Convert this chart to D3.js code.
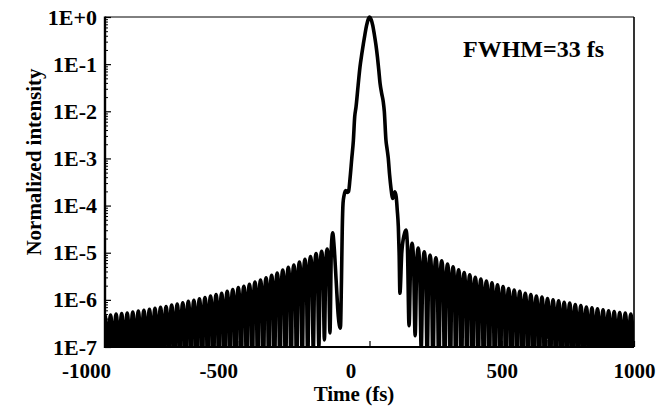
<!DOCTYPE html>
<html>
<head>
<meta charset="utf-8">
<script src="https://cdn.jsdelivr.net/npm/d3@7"></script>
<style>
  body { margin: 0; background: #fff; }
  text { font-family: "Liberation Serif", "Times New Roman", serif; font-weight: bold; fill: #000; }
</style>
</head>
<body>
<svg id="chart" width="671" height="406"></svg>
<script>
// values are [time in fs, log10 of normalized intensity]

// left wing: fringe peak, shoulder, dip, shoulder ...
const leftWing = [
  [-1010.5,-8.2],[-1005,-6.61],
  [-1000,-6.33],[-995,-6.61],[-989.5,-8.2],[-984,-6.60],
  [-979,-6.32],[-974,-6.60],[-968.5,-8.2],[-963,-6.58],
  [-958,-6.30],[-953,-6.58],[-947.5,-8.2],[-942,-6.57],
  [-937,-6.29],[-932,-6.57],[-926.5,-8.2],[-921,-6.56],
  [-916,-6.28],[-911,-6.56],[-905.5,-8.2],[-900,-6.54],
  [-895,-6.26],[-890,-6.54],[-884.5,-8.2],[-879,-6.52],
  [-874,-6.24],[-869,-6.52],[-863.5,-8.2],[-858,-6.50],
  [-853,-6.22],[-848,-6.50],[-842.5,-8.1],[-837,-6.48],
  [-832,-6.20],[-827,-6.48],[-821.5,-8.1],[-816,-6.46],
  [-811,-6.18],[-806,-6.46],[-800.5,-8.1],[-795,-6.44],
  [-790,-6.16],[-785,-6.44],[-779.5,-8.1],[-774,-6.42],
  [-769,-6.14],[-764,-6.42],[-758.5,-8.1],[-753,-6.39],
  [-748,-6.11],[-743,-6.39],[-737.5,-8.1],[-732,-6.37],
  [-727,-6.09],[-722,-6.37],[-716.5,-8.0],[-711,-6.34],
  [-706,-6.06],[-701,-6.34],[-695.5,-8.0],[-690,-6.31],
  [-685,-6.03],[-680,-6.31],[-674.5,-8.0],[-669,-6.29],
  [-664,-6.01],[-659,-6.29],[-653.5,-8.0],[-648,-6.26],
  [-643,-5.98],[-638,-6.26],[-632.5,-8.0],[-627,-6.23],
  [-622,-5.95],[-617,-6.23],[-611.5,-8.0],[-606,-6.20],
  [-601,-5.92],[-596,-6.20],[-590.5,-8.0],[-585,-6.17],
  [-580,-5.89],[-575,-6.17],[-569.5,-8.0],[-564,-6.14],
  [-559,-5.86],[-554,-6.14],[-548.5,-8.0],[-543,-6.10],
  [-538,-5.82],[-533,-6.10],[-527.5,-8.0],[-522,-6.06],
  [-517,-5.78],[-512,-6.06],[-506.5,-8.0],[-501,-6.02],
  [-496,-5.74],[-491,-6.02],[-485.5,-7.9],[-480,-5.99],
  [-475,-5.71],[-470,-5.99],[-464.5,-7.9],[-459,-5.95],
  [-454,-5.67],[-449,-5.95],[-443.5,-7.9],[-438,-5.90],
  [-433,-5.62],[-428,-5.90],[-422.5,-7.9],[-417,-5.86],
  [-412,-5.58],[-407,-5.86],[-401.5,-7.9],[-396,-5.81],
  [-391,-5.53],[-386,-5.81],[-380.5,-7.9],[-375,-5.76],
  [-370,-5.48],[-365,-5.76],[-359.5,-7.9],[-354,-5.71],
  [-349,-5.43],[-344,-5.71],[-338.5,-7.8],[-333,-5.65],
  [-328,-5.37],[-323,-5.65],[-317.5,-7.8],[-312,-5.59],
  [-307,-5.31],[-302,-5.59],[-296.5,-7.8],[-291,-5.54],
  [-286,-5.26],[-281,-5.54],[-275.5,-7.7],[-270,-5.48],
  [-265,-5.20],[-260,-5.48],[-254.5,-7.5],[-249,-5.42],
  [-244,-5.14],[-239,-5.42],[-233.5,-7.3],[-228,-5.36],
  [-223,-5.08],[-218,-5.36],[-212.5,-7.1],[-207,-5.30],
  [-202,-5.02],[-197,-5.30],[-191.5,-7.0],[-186,-5.25],
  [-181,-4.97],[-176,-5.25],[-170.5,-6.85],[-165,-5.20],
  [-160,-4.92],[-155,-5.20],[-149.5,-6.7],[-144,-4.86],
  [-139,-4.58],[-134,-4.85],[-126,-5.6],[-118,-6.35]
];

// main pulse
const pulse = [
  [-110,-6.6],[-106,-5.6],[-103,-4.5],[-100,-3.95],[-96,-3.78],[-90,-3.68],
  [-84,-3.72],[-79,-3.7],[-74,-3.45],[-67,-3.0],[-61,-2.62],[-56,-2.12],
  [-51,-1.91],[-43,-1.45],[-36,-1.06],[-29,-0.78],[-23,-0.56],[-17,-0.36],
  [-11,-0.18],[-5,-0.05],[0,0],[6,-0.05],[12,-0.17],[18,-0.36],[24,-0.58],
  [30,-0.85],[35,-1.12],[40,-1.41],[46,-1.62],[52,-1.8],[56,-2.0],[62,-2.6],
  [67,-2.82],[71,-3.0],[76,-3.35],[81,-3.62],[88,-3.85],[96,-3.71],
  [101,-3.82],[105,-4.1],[109,-4.45],[112,-5.0],[115,-5.86]
];

// right wing
const rightWing = [
  [122,-5.0],[131,-4.62],
  [138,-4.52],[143,-4.80],[149.5,-6.55],[156,-5.08],
  [161,-4.80],[166,-5.08],[172.5,-6.76],[179,-5.18],
  [184,-4.90],[189,-5.18],[195.5,-7.05],[202,-5.26],
  [207,-4.98],[212,-5.26],[218,-7.3],[224,-5.33],
  [229,-5.05],[234,-5.33],[240,-7.5],[246,-5.39],
  [251,-5.11],[256,-5.39],[262,-7.6],[268,-5.45],
  [273,-5.17],[278,-5.45],[284,-7.7],[290,-5.52],
  [295,-5.24],[300,-5.52],[305.5,-7.8],[311,-5.58],
  [316,-5.30],[321,-5.58],[326.5,-7.8],[332,-5.64],
  [337,-5.36],[342,-5.64],[347.5,-7.9],[353,-5.70],
  [358,-5.42],[363,-5.70],[368.5,-7.9],[374,-5.75],
  [379,-5.47],[384,-5.75],[389.5,-7.9],[395,-5.80],
  [400,-5.52],[405,-5.80],[410.5,-7.9],[416,-5.84],
  [421,-5.56],[426,-5.84],[431.5,-7.9],[437,-5.88],
  [442,-5.60],[447,-5.88],[452.5,-7.9],[458,-5.92],
  [463,-5.64],[468,-5.92],[473.5,-8.0],[479,-5.96],
  [484,-5.68],[489,-5.96],[494.5,-8.0],[500,-6.00],
  [505,-5.72],[510,-6.00],[515.5,-8.0],[521,-6.04],
  [526,-5.76],[531,-6.04],[536.5,-8.0],[542,-6.07],
  [547,-5.79],[552,-6.07],[557.5,-8.0],[563,-6.10],
  [568,-5.82],[573,-6.10],[578.5,-8.0],[584,-6.14],
  [589,-5.86],[594,-6.14],[599.5,-8.0],[605,-6.17],
  [610,-5.89],[615,-6.17],[620.5,-8.0],[626,-6.20],
  [631,-5.92],[636,-6.20],[641.5,-8.0],[647,-6.22],
  [652,-5.94],[657,-6.22],[662.5,-8.0],[668,-6.25],
  [673,-5.97],[678,-6.25],[683.5,-8.0],[689,-6.28],
  [694,-6.00],[699,-6.28],[704.5,-8.1],[710,-6.30],
  [715,-6.02],[720,-6.30],[725.5,-8.1],[731,-6.33],
  [736,-6.05],[741,-6.33],[746.5,-8.1],[752,-6.35],
  [757,-6.07],[762,-6.35],[767.5,-8.1],[773,-6.38],
  [778,-6.10],[783,-6.38],[788.5,-8.1],[794,-6.40],
  [799,-6.12],[804,-6.40],[809.5,-8.1],[815,-6.43],
  [820,-6.15],[825,-6.43],[830.5,-8.1],[836,-6.45],
  [841,-6.17],[846,-6.45],[851.5,-8.1],[857,-6.47],
  [862,-6.19],[867,-6.47],[872.5,-8.2],[878,-6.49],
  [883,-6.21],[888,-6.49],[893.5,-8.2],[899,-6.51],
  [904,-6.23],[909,-6.51],[914.5,-8.2],[920,-6.53],
  [925,-6.25],[930,-6.53],[935.5,-8.2],[941,-6.55],
  [946,-6.27],[951,-6.55],[956.5,-8.2],[962,-6.56],
  [967,-6.28],[972,-6.56],[977.5,-8.2],[983,-6.58],
  [988,-6.30],[993,-6.58],[998.5,-8.2],[1004,-6.59],
  [1009,-6.31]
];

const xTicks = [-1000, -500, 0, 500, 1000];
const yTicks = [1e0, 1e-1, 1e-2, 1e-3, 1e-4, 1e-5, 1e-6, 1e-7];
const yLabels = ["1E+0", "1E-1", "1E-2", "1E-3", "1E-4", "1E-5", "1E-6", "1E-7"];
const note = "FWHM=33 fs";

var margin = { top: 17, right: 37, bottom: 59, left: 105 },
    width = 671 - margin.left - margin.right,
    height = 406 - margin.top - margin.bottom;

var svg = d3.select("#chart");

var x = d3.scaleLinear().domain([-1000, 1000]).range([margin.left, margin.left + width]);
var y = d3.scaleLog().domain([1e-7, 1]).range([margin.top + height, margin.top]);

// clip for the curve
svg.append("clipPath").attr("id", "plotclip")
  .append("rect")
  .attr("x", margin.left)
  .attr("y", 0)
  .attr("width", width)
  .attr("height", margin.top + height);

var allPoints = leftWing.concat(pulse, rightWing);

var line = d3.line()
  .x(function(d) { return x(d[0]); })
  .y(function(d) { return y(Math.pow(10, d[1])); })
  .curve(d3.curveMonotoneX);

svg.append("path")
  .datum(allPoints)
  .attr("clip-path", "url(#plotclip)")
  .attr("d", line)
  .attr("fill", "none")
  .attr("stroke", "#000")
  .attr("stroke-width", 3.6)
  .attr("stroke-linejoin", "round");

// y axis: major and minor ticks pointing inward
var minorY = [];
yTicks.slice(0, -1).forEach(function(v) {
  for (var m = 2; m <= 9; m++) minorY.push(v * m / 10);
});

svg.append("g")
  .attr("transform", "translate(" + margin.left + ",0)")
  .call(d3.axisLeft(y).tickValues(minorY).tickSizeInner(-3).tickSizeOuter(0).tickFormat(""))
  .call(function(g) { g.select(".domain").remove(); });

var yAxis = svg.append("g")
  .attr("transform", "translate(" + margin.left + ",0)")
  .call(d3.axisLeft(y).tickValues(yTicks).tickSizeInner(-6).tickSizeOuter(0).tickPadding(8)
    .tickFormat(function(d, i) { return yLabels[i]; }));
yAxis.select(".domain").remove();
yAxis.selectAll("line").attr("stroke-width", 1.2);
yAxis.selectAll("text")
  .attr("dy", "0.32em")
  .style("font-size", "22px")
  .style("font-family", "'Liberation Serif', serif")
  .style("font-weight", "bold");

// x axis
var xAxis = svg.append("g")
  .attr("transform", "translate(0," + (margin.top + height) + ")")
  .call(d3.axisBottom(x).tickValues(xTicks).tickSizeInner(-6).tickSizeOuter(0).tickPadding(16)
    .tickFormat(function(d) { return String(d); }));
xAxis.select(".domain").remove();
xAxis.selectAll("line").attr("stroke-width", 1.2);
xAxis.selectAll("text")
  .attr("dx", function(d) { return d <= 0 ? -19 : 0; })
  .style("font-size", "21px")
  .style("font-family", "'Liberation Serif', serif")
  .style("font-weight", "bold");

// frame
svg.append("line").attr("x1", margin.left).attr("x2", margin.left + width)
  .attr("y1", margin.top).attr("y2", margin.top).attr("stroke", "#000").attr("stroke-width", 1);
svg.append("line").attr("x1", margin.left + width).attr("x2", margin.left + width)
  .attr("y1", margin.top).attr("y2", margin.top + height).attr("stroke", "#000").attr("stroke-width", 1.6);
svg.append("line").attr("x1", margin.left).attr("x2", margin.left + width)
  .attr("y1", margin.top + height).attr("y2", margin.top + height).attr("stroke", "#000").attr("stroke-width", 2);
svg.append("line").attr("x1", margin.left).attr("x2", margin.left)
  .attr("y1", margin.top - 0.5).attr("y2", margin.top + height + 1).attr("stroke", "#000").attr("stroke-width", 2.4);

// titles
svg.append("text")
  .attr("x", 354).attr("y", 401)
  .attr("text-anchor", "middle")
  .style("font-size", "21px")
  .text("Time (fs)");

svg.append("text")
  .attr("transform", "translate(41,162) rotate(-90)")
  .attr("text-anchor", "middle")
  .style("font-size", "21px")
  .text("Normalized intensity");

svg.append("text")
  .attr("x", 463).attr("y", 57)
  .style("font-size", "24px")
  .text(note);
</script>
</body>
</html>
